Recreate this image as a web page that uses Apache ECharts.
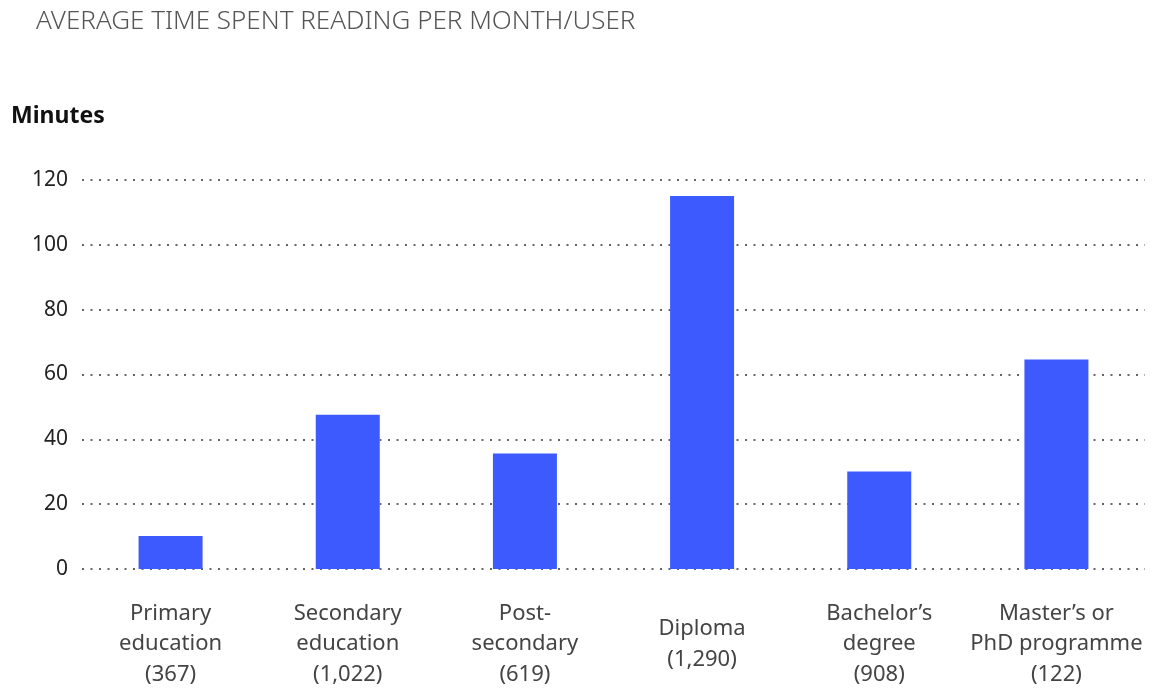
<!DOCTYPE html>
<html>
<head>
<meta charset="utf-8">
<script src="https://cdn.jsdelivr.net/npm/echarts@6/dist/echarts.min.js"></script>
<style>
  html, body { margin: 0; padding: 0; background: #fff; }
  #main { width: 1165px; height: 689px; }
</style>
</head>
<body>
<div id="main"></div>
<script>
  var categories = [
    'Primary\neducation\n(367)',
    'Secondary\neducation\n(1,022)',
    'Post-\nsecondary\n(619)',
    'Diploma\n(1,290)',
    'Bachelor\u2019s\ndegree\n(908)',
    'Master\u2019s or\nPhD programme\n(122)'
  ];
  var minutes = [10.2, 47.6, 35.6, 115.1, 30.1, 64.6];
  var yTicks = [0, 20, 40, 60, 80, 100, 120];

  var myChart = echarts.init(document.getElementById('main'));
  var font = '"Noto Sans", "Open Sans", sans-serif';

  var option = {
    animation: false,
    title: [
      {
        text: 'AVERAGE TIME SPENT READING PER MONTH/USER',
        left: 31,
        top: 4,
        textStyle: { fontFamily: font, fontWeight: 300, fontSize: 26, color: '#555' }
      },
      {
        text: 'Minutes',
        left: 6,
        top: 100,
        textStyle: { fontFamily: font, fontWeight: 'bold', fontSize: 23, color: '#111' }
      }
    ],
    grid: {
      top: 180,
      bottom: 120,
      left: 82,
      right: 20,
      outerBoundsMode: 'none'
    },
    xAxis: {
      type: 'category',
      data: categories,
      axisLine: { show: false },
      axisTick: { show: false },
      axisLabel: {
        margin: 75,
        interval: 0,
        fontFamily: font,
        fontSize: 22,
        lineHeight: 30.5,
        color: '#444',
        align: 'center',
        verticalAlign: 'middle'
      }
    },
    yAxis: {
      type: 'value',
      min: yTicks[0],
      max: yTicks[yTicks.length - 1],
      interval: 20,
      axisLine: { show: false },
      axisTick: { show: false },
      axisLabel: {
        margin: 14,
        fontFamily: font,
        fontSize: 21,
        color: '#222'
      },
      splitLine: {
        lineStyle: { color: '#666', width: 2, type: [2, 6.5] }
      }
    },
    series: [
      {
        type: 'bar',
        data: minutes,
        barWidth: 64,
        itemStyle: { color: '#3d5afe' }
      }
    ]
  };
  myChart.setOption(option);
</script>
</body>
</html>
